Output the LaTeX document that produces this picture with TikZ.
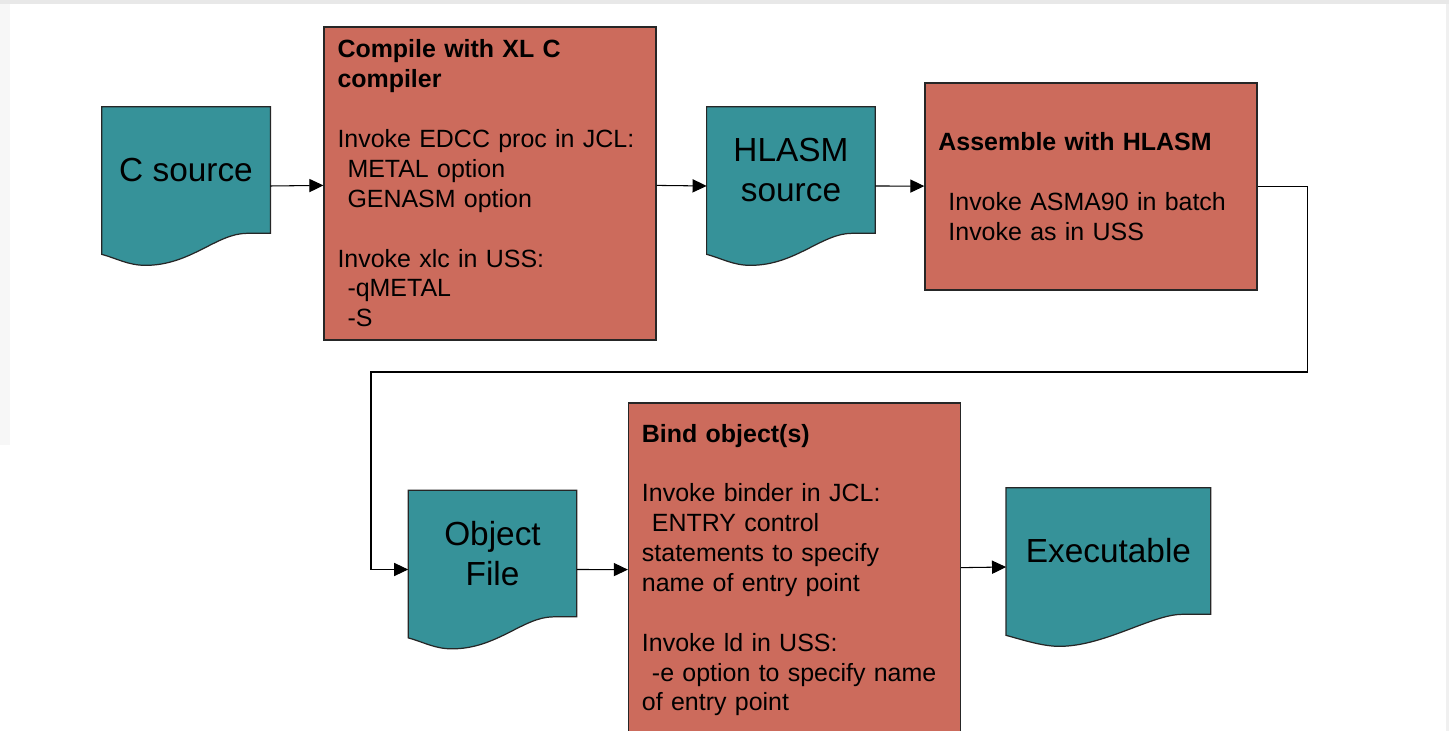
\documentclass[tikz,border=0pt]{standalone}
\usepackage{fontspec}
\setmainfont{Liberation Sans}
\usetikzlibrary{arrows.meta,positioning,calc,backgrounds}
\definecolor{docteal}{RGB}{54,146,153}
\definecolor{taskred}{RGB}{204,107,92}
\newcommand{\ind}{\hspace*{0.2cm}}
% document symbol drawn round the body of a doc node
\newcommand{\docshape}[1]{%
    \filldraw[draw=black!85, line width=0.7pt, fill=docteal]
        (#1.north west) -- (#1.north east) -- (#1.south east)
        -- ($(#1.south west)!0.86!(#1.south east)$)
        .. controls +(-0.6,0) and +(0.9,0) .. ($(#1.south west)!0.26!(#1.south east)+(0,-0.64)$)
        .. controls +(-0.35,0) and +(0.3,-0.08) .. ($(#1.south west)+(0,-0.42)$)
        -- cycle;}
\tikzset{node distance=1cm, % Minimum distance between two nodes.
        doc/.style={ % Text of the document symbols
            minimum width=3.36cm,
            minimum height=2.52cm,
            inner sep=0pt,
            align=center,
            font=\fontsize{19}{22.7}\selectfont},
        task/.style={ % Red process boxes
            draw=black!85,
            line width=0.7pt,
            fill=taskred,
            text width=6.1cm,
            inner xsep=0.27cm,
            align=left,
            font=\fontsize{14.2}{17}\selectfont},
        every edge/.style={ % Sets the properties for each connector
            draw,
            -{Triangle[length=8pt,width=7.5pt]},
            line width=0.6pt}
        }
\begin{document}
\begin{tikzpicture}
    \path[use as bounding box, clip] (0,0) rectangle (28.98,-14.62);

    \node[task, minimum height=6.26cm] (compile) at (9.80,-3.67)
        {\textbf{Compile with XL C}\\ \textbf{compiler}\\[17pt]
         Invoke EDCC proc in JCL:\\ \ind METAL option\\ \ind GENASM option\\[17pt]
         Invoke xlc in USS:\\ \ind -qMETAL\\ \ind -S};
    \node[doc, left=1.06cm of compile, yshift=0.27cm] (csrc) {C source};
    \node[doc, right=1cm of compile, yshift=0.27cm] (hlasm) {HLASM\\source};
    \node[task, minimum height=4.14cm, right=0.98cm of hlasm, yshift=-0.33cm] (asm)
        {\textbf{Assemble with HLASM}\\[17pt]
         \ind Invoke ASMA90 in batch\\ \ind Invoke as in USS};

    \node[doc] (obj) at (9.85,-11.07) {Object\\File};
    \node[task, minimum height=6.68cm, right=1.02cm of obj, yshift=-0.33cm] (bind)
        {\textbf{Bind object(s)}\\[17pt]
         Invoke binder in JCL:\\ \ind ENTRY control\\ statements to specify\\ name of entry point\\[17pt]
         Invoke ld in USS:\\ \ind -e option to specify name\\ of entry point};
    \node[doc, minimum width=4.08cm, right=0.9cm of bind, yshift=0.38cm] (exe) {Executable};

    \coordinate (bend) at (7.42,-7.44);

    \begin{scope}[on background layer]
        \fill[gray!18] (0,0) rectangle (28.98,-0.08);
        \fill[gray!6] (0,-0.08) rectangle (0.2,-8.9);
        \fill[gray!12] (28.92,-0.08) rectangle (28.98,-14.62);
        \foreach \n in {csrc,hlasm,obj,exe} {\docshape{\n}}
    \end{scope}

    \draw
        ([yshift=-0.32cm]csrc.east) edge (compile)
        (compile) edge ([yshift=-0.32cm]hlasm.west)
        ([yshift=-0.32cm]hlasm.east) edge (asm)
        ([yshift=-0.32cm]obj.east) edge (bind)
        (bind) edge ([yshift=-0.32cm]exe.west);
    \draw[-{Triangle[length=8pt,width=7.5pt]}, line width=0.6pt]
        (asm.east) -- ++(1,0) |- (bend) |- ([yshift=-0.32cm]obj.west);
\end{tikzpicture}
\end{document}
